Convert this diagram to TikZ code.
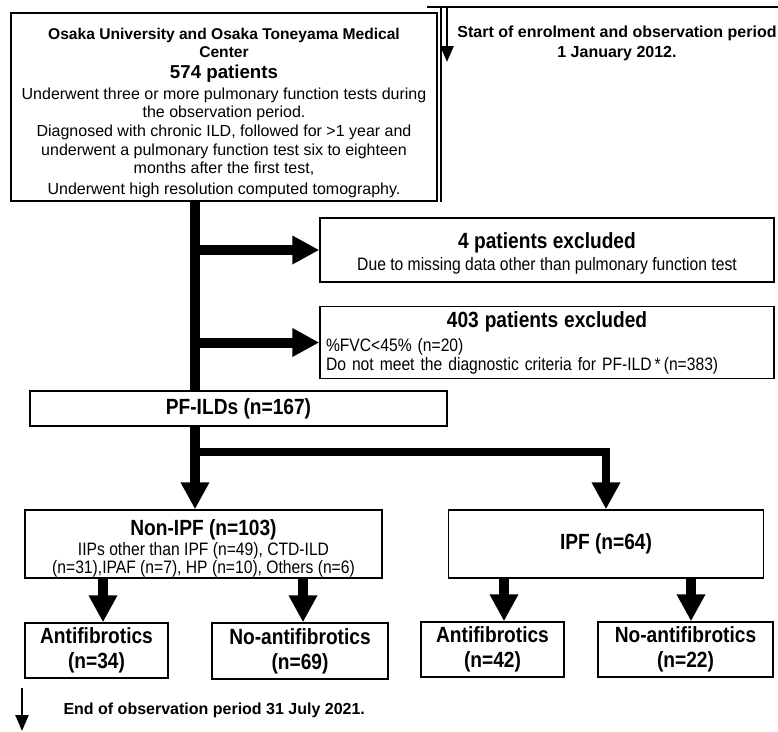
\documentclass[tikz,border=0pt]{standalone}
\usepackage{fontspec}
\setmainfont{Liberation Sans}
\newfontfamily\narrowfont{Liberation Sans}[FakeStretch=0.87]
\usetikzlibrary{arrows.meta}
\usetikzlibrary{positioning}

\begin{document}
\begin{tikzpicture}[x=1pt,y=-1pt]
  \tikzset{
box/.style={draw,
  line width=1.5pt,
    inner sep=0pt,
    align=center},
fat/.style={line width=10pt, -{Triangle[width=27pt,length=27pt]}},
stem/.style={line width=10pt},
slim/.style={line width=2.5pt, -{Triangle[width=13pt,length=16pt]}},
}
  \useasboundingbox (0,0) rectangle (778,731);

  % Nodes
  \node [box, minimum width=426pt, minimum height=188pt, font=\fontsize{16}{18.7}\selectfont] (cohort) at (224,107)
    {\rule{0pt}{23pt}{\bfseries\fontsize{15.6}{18}\selectfont Osaka University and Osaka Toneyama Medical}\\
     {\bfseries\fontsize{15.6}{18}\selectfont Center}\\[2pt]
     {\bfseries\fontsize{18.7}{22}\selectfont 574 patients}\\[2pt]
     Underwent three or more pulmonary function tests during\\
     the observation period.\\
     Diagnosed with chronic ILD, followed for >1 year and\\
     underwent a pulmonary function test six to eighteen\\
     months after the first test,\\[2pt]
     Underwent high resolution computed tomography.};
  \node [box, minimum width=454pt, minimum height=64pt, font=\narrowfont\fontsize{18}{21}\selectfont] (drop1) at (547,250)
    {\rule{0pt}{22pt}{\bfseries\fontsize{22}{24}\selectfont 4 patients excluded}\\[1pt]
     Due to missing data other than pulmonary function test};
  \node [box, below=23pt of drop1, minimum width=454pt, minimum height=72pt, text width=442pt, align=left,
    font=\narrowfont\fontsize{18}{19}\selectfont] (drop2)
    {\makebox[\linewidth][c]{\bfseries\fontsize{22}{24}\selectfont 403 patients excluded}\\[5pt]
     \%FVC<45\% (n=20)\\
     Do not meet the diagnostic criteria for PF-ILD\,*\,(n=383)};
  \node [box, minimum width=417pt, minimum height=35pt, font=\narrowfont\bfseries\fontsize{22}{24}\selectfont] (pfild) at (238.5,408.5) {PF-ILDs (n=167)};
  \node [box, minimum width=357pt, minimum height=68pt, font=\narrowfont\fontsize{18}{18}\selectfont] (nonipf) at (203.5,544)
    {\rule{0pt}{24pt}{\bfseries\fontsize{22}{24}\selectfont Non-IPF (n=103)}\\[2pt]
     IIPs other than IPF (n=49), CTD-ILD\\
     (n=31),IPAF (n=7), HP (n=10), Others (n=6)};
  \node [box, right=65pt of nonipf, minimum width=315pt, minimum height=68pt, font=\narrowfont\bfseries\fontsize{22}{24}\selectfont] (ipf) {IPF (n=64)};
  \node [box, minimum width=143pt, minimum height=55pt, font=\narrowfont\bfseries\fontsize{22}{25}\selectfont] (anti1) at (96.5,650.5) {Antifibrotics\\(n=34)};
  \node [box, minimum width=176pt, minimum height=56pt, font=\narrowfont\bfseries\fontsize{22}{25}\selectfont] (noanti1) at (300,651) {No-antifibrotics\\(n=69)};
  \node [box, minimum width=143pt, minimum height=55pt, font=\narrowfont\bfseries\fontsize{22}{25}\selectfont] (anti2) at (492.5,649.5) {Antifibrotics\\(n=42)};
  \node [box, minimum width=175pt, minimum height=55pt, font=\narrowfont\bfseries\fontsize{22}{25}\selectfont] (noanti2) at (685.5,649.5) {No-antifibrotics\\(n=22)};

  % period marks
  \node [align=center, font=\bfseries\fontsize{16}{20}\selectfont] (start) at (617,43) {Start of enrolment and observation period\\1 January 2012.};
  \node [right, font=\bfseries\fontsize{16}{19}\selectfont] (finish) at (60,710) {End of observation period 31 July 2021.};
  \coordinate (bar0) at (427,7);
  \coordinate (bar1) at (778,7);
  \coordinate (edge0) at (441,7);
  \coordinate (in0) at (447,7);
  \coordinate (in1) at (447,62);
  \coordinate (out0) at (22,688);
  \coordinate (out1) at (22,731);
  \coordinate (trunk) at (195,0);
  \coordinate (split) at (195,452);
  \coordinate (col1) at (103,0);
  \coordinate (col2) at (303,0);
  \coordinate (col3) at (504,0);
  \coordinate (col4) at (691,0);

  \draw [line width=2.5pt] (bar0) -- (bar1);
  \draw [line width=1.5pt] (edge0) -- (edge0 |- cohort.south);
  \draw [slim] (in0) -- (in1);
  \draw [slim] (out0) -- (out1);

  % Edges
  \draw [stem] (cohort.south -| trunk) -- (pfild.north -| trunk);
  \draw [fat] (drop1.west -| trunk) -- (drop1.west);
  \draw [fat] (drop2.west -| trunk) -- (drop2.west);
  \draw [fat] (pfild.south -| trunk) -- (nonipf.north -| trunk);
  \draw [fat, line width=8pt] (split) -| (ipf.north);
  \draw [fat] (nonipf.south -| col1) -- (anti1.north -| col1);
  \draw [fat] (nonipf.south -| col2) -- (noanti1.north -| col2);
  \draw [fat] (ipf.south -| col3) -- (anti2.north -| col3);
  \draw [fat] (ipf.south -| col4) -- (noanti2.north -| col4);
\end{tikzpicture}
\end{document}
